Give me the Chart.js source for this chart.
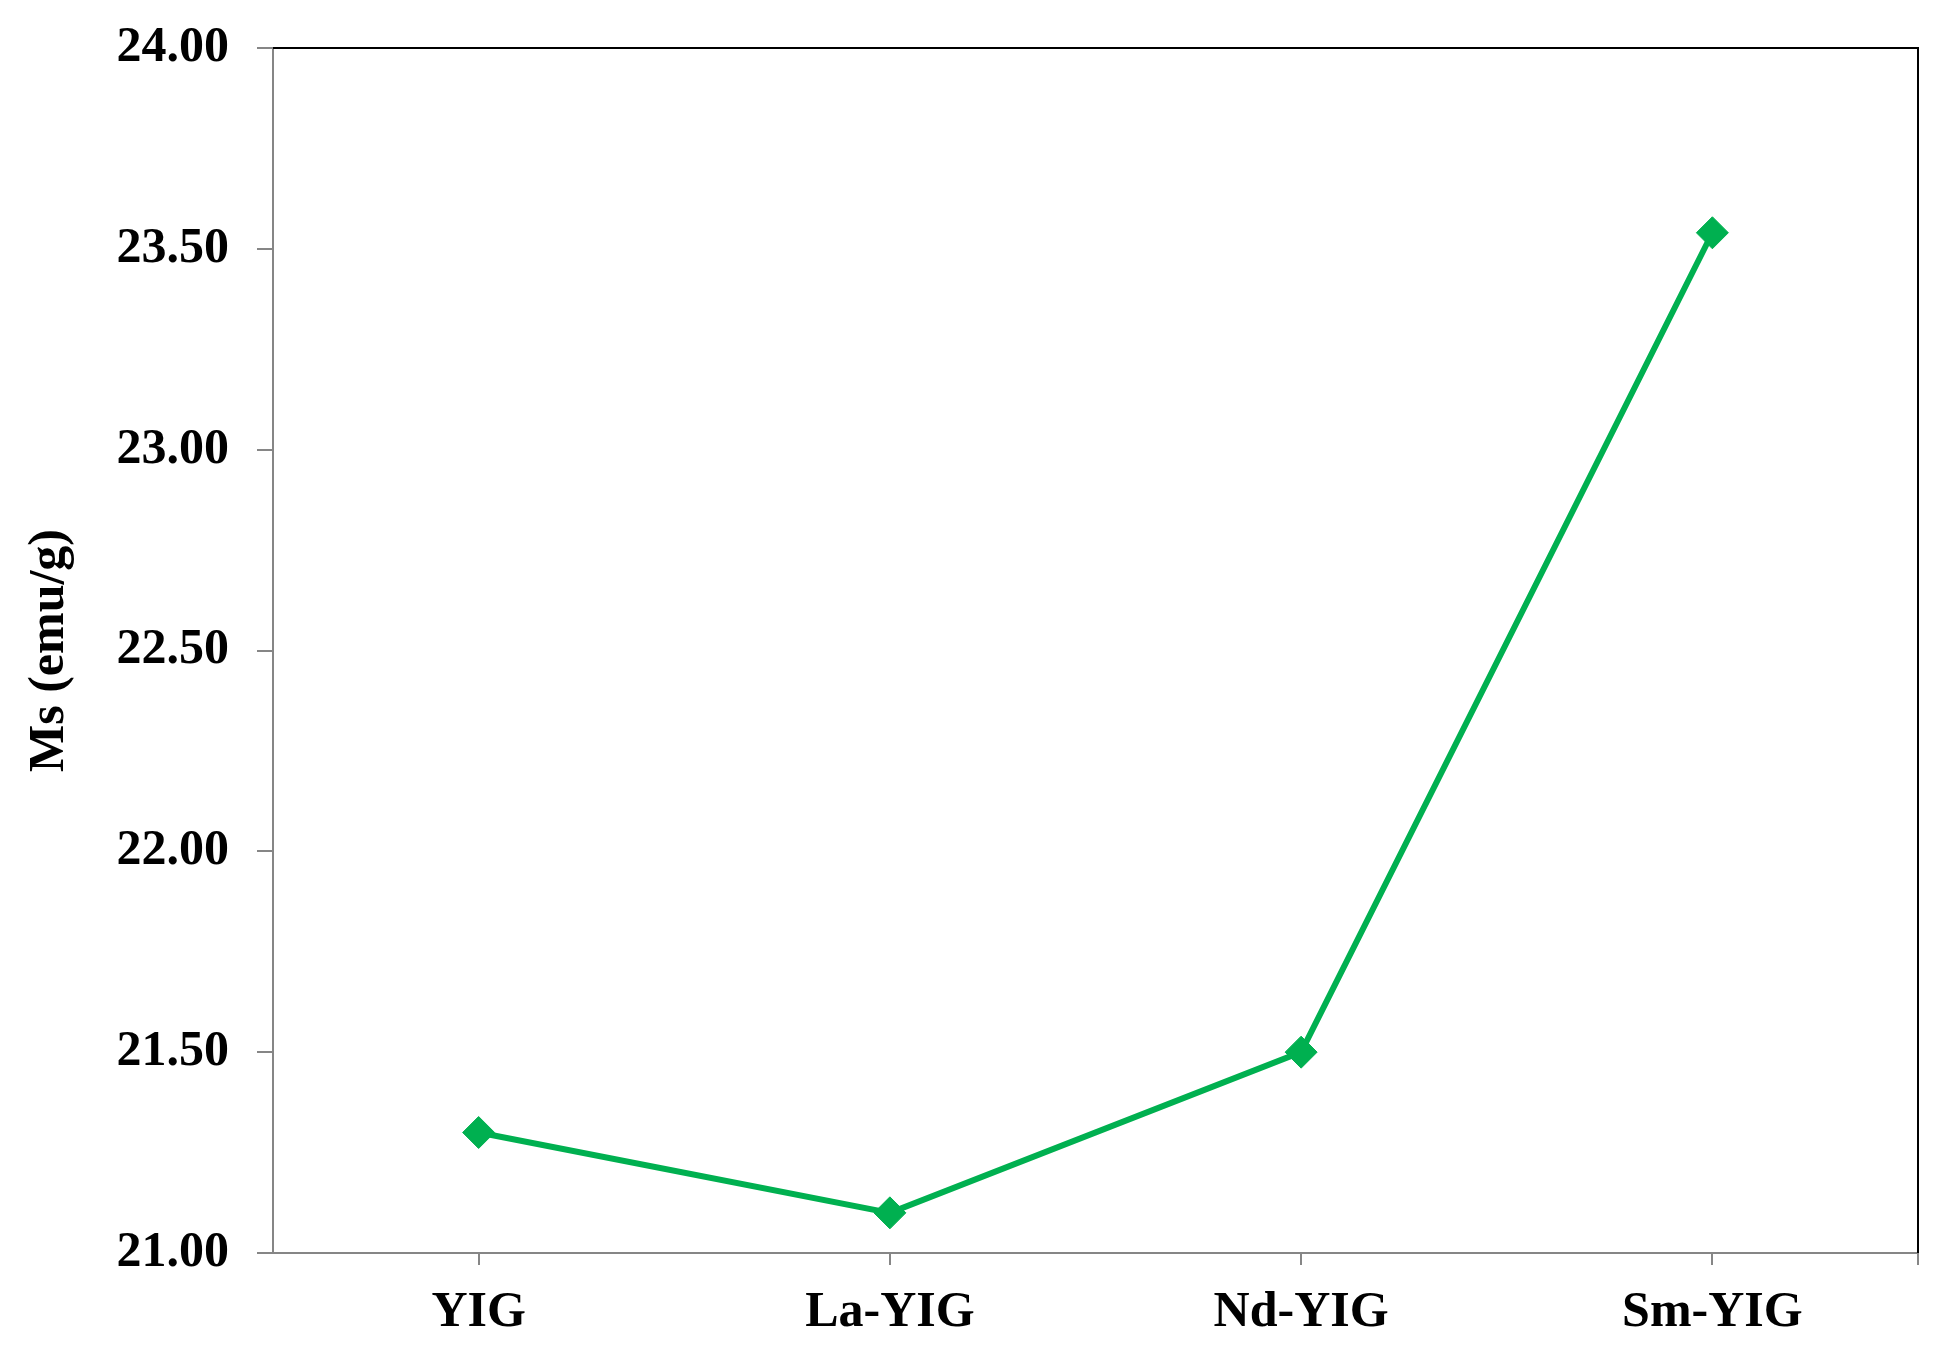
<!DOCTYPE html>
<html>
<head>
<meta charset="utf-8">
<title>Ms (emu/g)</title>
<script src="https://cdn.jsdelivr.net/npm/chart.js@4.4.0/dist/chart.umd.min.js"></script>
<style>
  html, body { margin: 0; padding: 0; background: #ffffff; }
  #wrap { width: 1958px; height: 1356px; position: relative; }
</style>
</head>
<body>
<div id="wrap"><canvas id="chart"></canvas></div>
<script>
const samples = ["YIG", "La-YIG", "Nd-YIG", "Sm-YIG"];
const msValues = [21.30, 21.10, 21.50, 23.54];
const yTicks = [21.0, 21.5, 22.0, 22.5, 23.0, 23.5, 24.0];

const fontFamily = "'Liberation Serif', 'Times New Roman', serif";
const axisGrey = "#868686";
const green = "#00B050";

// top and right edges of the plot box are black, plus the last x tick
const frameBox = {
  id: "frameBox",
  afterDraw(chart) {
    const { ctx, chartArea } = chart;
    ctx.save();
    ctx.strokeStyle = "#000000";
    ctx.lineWidth = 2;
    ctx.beginPath();
    ctx.moveTo(chartArea.left, chartArea.top);
    ctx.lineTo(chartArea.right, chartArea.top);
    ctx.lineTo(chartArea.right, chartArea.bottom);
    ctx.stroke();
    ctx.strokeStyle = axisGrey;
    ctx.beginPath();
    ctx.moveTo(chartArea.right, chartArea.bottom);
    ctx.lineTo(chartArea.right, chartArea.bottom + 12);
    ctx.stroke();
    ctx.restore();
  },
};

const ctx = document.getElementById("chart").getContext("2d");

new Chart(ctx, {
  type: "line",
  data: {
    labels: samples,
    datasets: [
      {
        label: "Ms",
        data: msValues,
        borderColor: green,
        backgroundColor: green,
        borderWidth: 6,
        pointStyle: "rectRot",
        pointRadius: 16,
        pointBorderWidth: 1,
        pointBackgroundColor: green,
        pointBorderColor: green,
        tension: 0,
      },
    ],
  },
  options: {
    responsive: true,
    maintainAspectRatio: false,
    animation: false,
    layout: { padding: { top: 48, right: 40, left: 0, bottom: 0 } },
    plugins: {
      legend: { display: false },
      tooltip: { enabled: false },
    },
    scales: {
      x: {
        type: "category",
        offset: true,
        afterFit(scale) {
          scale.height = 103;
          scale.paddingLeft = 0;
          scale.paddingRight = 0;
        },
        grid: {
          offset: false,
          drawOnChartArea: false,
          drawTicks: true,
          tickLength: 12,
          color: axisGrey,
          lineWidth: 2,
        },
        border: { display: true, color: axisGrey, width: 2 },
        ticks: {
          padding: 18,
          color: "#000000",
          font: { family: fontFamily, size: 50, weight: "bold" },
          maxRotation: 0,
        },
      },
      y: {
        min: 21,
        max: 24,
        afterFit(scale) {
          scale.width = 273;
          scale.paddingTop = 0;
          scale.paddingBottom = 0;
        },
        afterBuildTicks(scale) {
          scale.ticks = yTicks.map((v) => ({ value: v }));
        },
        grid: {
          drawOnChartArea: false,
          drawTicks: true,
          tickLength: 16,
          color: axisGrey,
          lineWidth: 2,
        },
        border: { display: true, color: axisGrey, width: 2 },
        ticks: {
          padding: 28,
          color: "#000000",
          font: { family: fontFamily, size: 50, weight: "bold" },
          callback: (v) => Number(v).toFixed(2),
        },
        title: {
          display: true,
          text: "Ms (emu/g)",
          color: "#000000",
          padding: { top: 20, bottom: 0 },
          font: { family: fontFamily, size: 50, weight: "bold" },
        },
      },
    },
  },
  plugins: [frameBox],
});
</script>
</body>
</html>
